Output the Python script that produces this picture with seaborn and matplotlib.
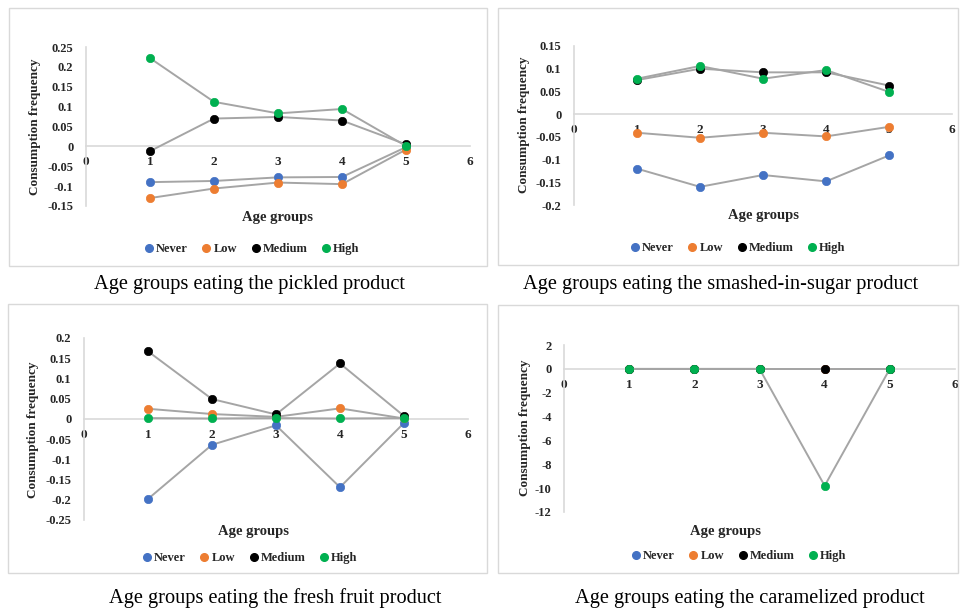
import matplotlib
matplotlib.use("Agg")
import matplotlib.pyplot as plt
from matplotlib.lines import Line2D
from matplotlib.patches import Rectangle
import seaborn as sns
import pandas as pd

sns.set_theme(style="white")
plt.rcParams['font.family'] = ['Liberation Serif', 'DejaVu Serif']

age_groups = [1, 2, 3, 4, 5]
series_names = ["Never", "Low", "Medium", "High"]
colors = {"Never": "#4472C4", "Low": "#ED7D31", "Medium": "#000000", "High": "#00B050"}

# Pickled product
pickled_never = [-0.090, -0.087, -0.078, -0.077, -0.002]
pickled_low = [-0.130, -0.106, -0.091, -0.095, -0.008]
pickled_medium = [-0.012, 0.070, 0.074, 0.065, 0.005]
pickled_high = [0.222, 0.112, 0.083, 0.094, 0.001]

# Smashed-in-sugar product
sugar_never = [-0.120, -0.160, -0.134, -0.148, -0.091]
sugar_low = [-0.041, -0.052, -0.041, -0.049, -0.028]
sugar_medium = [0.075, 0.100, 0.092, 0.092, 0.063]
sugar_high = [0.078, 0.106, 0.078, 0.097, 0.049]

# Fresh fruit product
fresh_never = [-0.198, -0.064, -0.016, -0.169, -0.010]
fresh_low = [0.025, 0.012, 0.005, 0.026, 0.001]
fresh_medium = [0.167, 0.049, 0.011, 0.137, 0.007]
fresh_high = [0.002, 0.001, 0.002, 0.001, 0.002]

# Caramelized product
caramel_never = [0, 0, 0, 0, 0]
caramel_low = [0, 0, 0, 0, 0]
caramel_medium = [0, 0, 0, 0, 0]
caramel_high = [0, 0, 0, -9.8, 0]

captions = [
    "Age groups eating the pickled product",
    "Age groups eating the smashed-in-sugar product",
    "Age groups eating the fresh fruit product",
    "Age groups eating the caramelized product",
]

y_ticks_sets = [
    [-0.15, -0.1, -0.05, 0, 0.05, 0.1, 0.15, 0.2, 0.25],
    [-0.2, -0.15, -0.1, -0.05, 0, 0.05, 0.1, 0.15],
    [-0.25, -0.2, -0.15, -0.1, -0.05, 0, 0.05, 0.1, 0.15, 0.2],
    [-12, -10, -8, -6, -4, -2, 0, 2],
]
x_ticks = [0, 1, 2, 3, 4, 5, 6]

panels_data = [
    [pickled_never, pickled_low, pickled_medium, pickled_high],
    [sugar_never, sugar_low, sugar_medium, sugar_high],
    [fresh_never, fresh_low, fresh_medium, fresh_high],
    [caramel_never, caramel_low, caramel_medium, caramel_high],
]

W, H = 960, 610
fig = plt.figure(figsize=(9.6, 6.1), dpi=100)
fig.patch.set_facecolor("white")

# layout in pixels
layout = [
    dict(box=(9, 8, 487, 266), ax=(86, 47, 470, 206), ylab=(35, 127), xlab=(278, 217), leg=(251, 249), cap=(249, 285)),
    dict(box=(498, 8, 958, 265), ax=(574, 46, 952, 205), ylab=(524, 125), xlab=(763, 215), leg=(737, 248), cap=(721, 285)),
    dict(box=(8, 304, 487, 573), ax=(84, 338, 468, 520), ylab=(33, 430), xlab=(253, 532), leg=(249, 558), cap=(275, 598)),
    dict(box=(498, 305, 958, 573), ax=(564, 345, 955, 512), ylab=(525, 428), xlab=(726, 532), leg=(738, 556), cap=(750, 598)),
]

def fx(px):
    return px / W

def fy(py):
    return 1 - py / H

line_gray = "#A5A5A5"
axis_gray = "#D9D9D9"
bold_font = dict(family=['Liberation Serif', 'DejaVu Serif'], weight='bold')

for data, lay, yt, cap in zip(panels_data, layout, y_ticks_sets, captions):
    bx0, by0, bx1, by1 = lay["box"]
    fig.patches.append(Rectangle((fx(bx0), fy(by1)), fx(bx1) - fx(bx0), fy(by0) - fy(by1),
                                 transform=fig.transFigure, fill=False, edgecolor=axis_gray, linewidth=1.0))
    l, t, r, b = lay["ax"]
    ax = fig.add_axes([fx(l), fy(b), fx(r) - fx(l), fy(t) - fy(b)])
    ax.set_facecolor("none")
    for name, vals in zip(series_names, data):
        df = pd.DataFrame({"Age group": age_groups, "value": vals})
        sns.lineplot(data=df, x="Age group", y="value", ax=ax, color=line_gray, linewidth=1.4,
                     marker="o", markersize=6, markerfacecolor=colors[name],
                     markeredgecolor=colors[name], markeredgewidth=0.5, zorder=3)
    for s in ["top", "right"]:
        ax.spines[s].set_visible(False)
    ax.spines["bottom"].set_position(("data", 0))
    ax.spines["bottom"].set_color(axis_gray)
    ax.spines["bottom"].set_linewidth(1.2)
    ax.spines["left"].set_color(axis_gray)
    ax.spines["left"].set_linewidth(1.2)
    ax.grid(False)
    ax.set_xlim(0, 6)
    ax.set_ylim(yt[0], yt[-1])
    ax.set_xticks(x_ticks)
    ax.set_yticks(yt)
    ax.set_xticklabels([str(v) for v in x_ticks], fontsize=9.5, fontweight='bold', color="#262626")
    ax.set_yticklabels([f"{v:g}" for v in yt], fontsize=9, fontweight='bold', color="#262626")
    ax.tick_params(axis="both", length=0)
    ax.tick_params(axis="x", pad=7)
    ax.tick_params(axis="y", pad=9)
    ax.set_xlabel("Age groups", fontsize=10.5, **bold_font, color="#262626")
    ax.set_ylabel("Consumption frequency", fontsize=9.5, **bold_font, color="#262626")
    xl_x, xl_y = lay["xlab"]
    ax.xaxis.set_label_coords((xl_x - l) / (r - l), (b - xl_y) / (b - t))
    ax.xaxis.label.set_va("center")
    yl_x, yl_y = lay["ylab"]
    ax.yaxis.set_label_coords((yl_x - l) / (r - l), (b - yl_y) / (b - t))
    ax.yaxis.label.set_va("center")

    handles = [Line2D([], [], linestyle="none", marker="o", markersize=5.5,
                      markerfacecolor=colors[n], markeredgecolor=colors[n]) for n in series_names]
    lx, ly = lay["leg"]
    fig.legend(handles, series_names, loc="center", bbox_to_anchor=(fx(lx), fy(ly)), ncol=4,
               frameon=False, handletextpad=0.05, columnspacing=1.0, handlelength=1.0,
               prop=dict(family=['Liberation Serif'], weight='bold', size=9))
    cx, cy = lay["cap"]
    fig.text(fx(cx), fy(cy), cap, ha="center", va="center", fontsize=14.7,
             family=['Liberation Serif', 'DejaVu Serif'], color="#000000")

fig.savefig("out.png", dpi=100, facecolor="white")
